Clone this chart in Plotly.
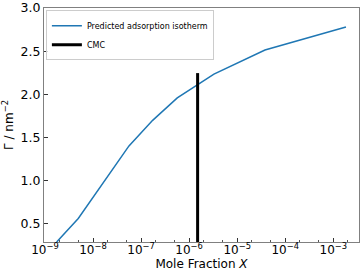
import plotly.graph_objects as go

# Data
mole_fraction = [1.75e-9, 4.93e-9, 5.6e-8, 1.74e-7, 5.66e-7, 3.28e-6, 3.78e-5, 1.83e-3]
surface_excess = [0.285, 0.558, 1.40, 1.697, 1.957, 2.233, 2.513, 2.781]
cmc_x = [1.5e-6, 1.5e-6]
cmc_y = [0.0, 2.245]

x_tick_vals = [1e-9, 1e-8, 1e-7, 1e-6, 1e-5, 1e-4, 1e-3]
x_tick_text = ["10<sup>−9</sup>", "10<sup>−8</sup>", "10<sup>−7</sup>", "10<sup>−6</sup>",
               "10<sup>−5</sup>", "10<sup>−4</sup>", "10<sup>−3</sup>"]
y_tick_vals = [0.5, 1.0, 1.5, 2.0, 2.5, 3.0]
y_tick_text = ["0.5", "1.0", "1.5", "2.0", "2.5", "3.0"]

fig = go.Figure()
fig.add_trace(go.Scatter(x=mole_fraction, y=surface_excess, mode="lines",
                         line=dict(color="#1f77b4", width=1.5),
                         name="Predicted adsorption isotherm"))
fig.add_trace(go.Scatter(x=cmc_x, y=cmc_y, mode="lines",
                         line=dict(color="black", width=3), name="CMC"))

axis_common = dict(showgrid=False, zeroline=False, showline=True, linecolor="#808080",
                   linewidth=1, mirror=True, ticks="inside", tickcolor="#333333",
                   ticklen=4, automargin=False, ticklabeloverflow="allow")

fig.update_xaxes(type="log", range=[-9.02, -2.466], tickvals=x_tick_vals, ticktext=x_tick_text,
                 tickfont=dict(size=12, color="black"), ticklabelstandoff=-3,
                 minor=dict(ticks="inside", ticklen=2, tickcolor="#555555", showgrid=False),
                 title=dict(text="Mole Fraction <i>X</i>", font=dict(size=12, color="black"), standoff=0),
                 **axis_common)
fig.update_yaxes(range=[0.285, 3.0005], tickvals=y_tick_vals, ticktext=y_tick_text,
                 tickfont=dict(size=12.5, color="black"),
                 title=dict(text="Γ / nm<sup>−2</sup>", font=dict(size=12, color="black"), standoff=4),
                 **axis_common)

fig.update_layout(
    width=362, height=272,
    margin=dict(l=44, r=3, t=8, b=30),
    paper_bgcolor="white", plot_bgcolor="white",
    font=dict(family="DejaVu Sans", size=11, color="black"),
    showlegend=True,
    legend=dict(x=0.006, y=0.99, xanchor="left", yanchor="top",
                bgcolor="rgba(255,255,255,0.8)", bordercolor="#cccccc", borderwidth=1,
                font=dict(size=8), itemwidth=30, tracegroupgap=0),
)

fig.write_html("out.html", config={"displayModeBar": False},
               post_script="document.body.style.margin='0';document.body.style.overflow='hidden';")
